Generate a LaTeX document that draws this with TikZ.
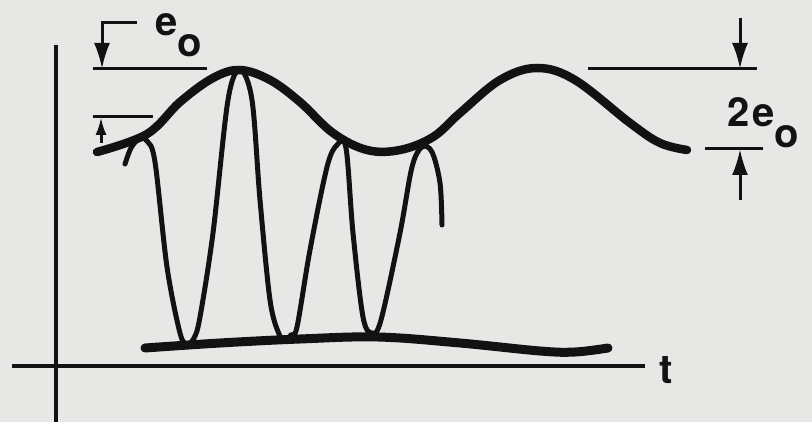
\documentclass[tikz,border=0pt]{standalone}
\usepackage{fontspec}
\setmainfont{TeX Gyre Heros}
\usetikzlibrary{arrows.meta}
\definecolor{paper}{RGB}{231,231,229}
\definecolor{ink}{RGB}{18,18,18}

\begin{document}
\begin{tikzpicture}[x=1pt, y=-1pt, font=\fontsize{40}{40}\selectfont\bfseries,
  axis/.style={ink, line width=3.6pt},
  dimline/.style={ink, line width=3pt},
  dimarrow/.style={ink, line width=3pt, -{Latex[length=26pt,width=16pt]}},
  smallarrow/.style={ink, line width=3pt, -{Latex[length=18pt,width=11pt]}},
  envelope/.style={ink, line width=8.5pt, line cap=round},
  carrier/.style={ink, line width=5pt, line cap=round}]
  % paper, 812 x 422 px, y runs downwards
  \fill[paper] (0,0) rectangle (812,422);
  \useasboundingbox (0,0) rectangle (812,422);
  % axes
  \coordinate (O)    at (56,366);
  \coordinate (ytop) at (56,45);
  \coordinate (ybot) at (56,422);
  \coordinate (xl)   at (12,366);
  \coordinate (xr)   at (645,366);
  \draw[axis] (ytop) -- (ybot);
  \draw[axis] (xl) -- (xr);
  \node[ink, anchor=base west, inner sep=0pt] (tlab) at (659,383) {t};
  % upper envelope
  \draw[envelope] plot[smooth, tension=0.6] coordinates {
    (97,152) (147,134) (180,102) (213,78) (240,70) (270,80) (300,102)
    (333,133) (367,150) (400,150) (433,137) (460,113) (500,80) (537,68)
    (575,80) (630,123) (660,143) (687,150)};
  % lower envelope
  \draw[envelope, line width=9pt] plot[smooth, tension=0.6] coordinates {
    (145,348) (220,343) (300,339) (378,337) (460,343) (540,351)
    (575,352) (608,348)};
  % modulated carrier
  \draw[carrier] plot[smooth, tension=0.55] coordinates {
    (125,164) (131,148) (139,139) (147,141) (155,162) (167,267) (180,333)
    (187,344) (194,338) (200,317) (213,233) (228,100) (240,70)
    (252,100) (260,200) (270,300) (279,334) (285,340) (291,335) (297,327)
    (310,250) (327,167) (337,145) (346,148) (353,233) (363,317) (372,333)
    (381,320) (400,233) (412,167) (422,147) (432,152) (440,183) (442,225)};
  % e_o marker, left
  \coordinate (eoA) at (137,23);
  \coordinate (eoB) at (102,23);
  \coordinate (eoC) at (102,69);
  \draw[dimline] (93,69) -- (207,69);
  \draw[dimarrow] (eoA) -- (eoB) -- (eoC);
  \node[ink, anchor=base west, inner sep=0pt] (eo) at (155,36) {e\raisebox{-21pt}{o}};
  \draw[dimline] (93,117) -- (153,117);
  \coordinate (lowA) at (101,143);
  \coordinate (lowB) at (101,117);
  \draw[smallarrow] (lowA) -- (lowB);
  % 2e_o marker, right
  \draw[dimline] (588,69) -- (757,69);
  \draw[dimline] (705,149) -- (763,149);
  \coordinate (topA) at (740,18);
  \coordinate (topB) at (740,69);
  \coordinate (botA) at (740,200);
  \coordinate (botB) at (740,149);
  \draw[dimarrow] (topA) -- (topB);
  \draw[dimarrow] (botA) -- (botB);
  \node[ink, anchor=base west, inner sep=0pt] (twoeo) at (727,127) {2\hspace{3pt}e\raisebox{-21pt}{o}};
\end{tikzpicture}
\end{document}
